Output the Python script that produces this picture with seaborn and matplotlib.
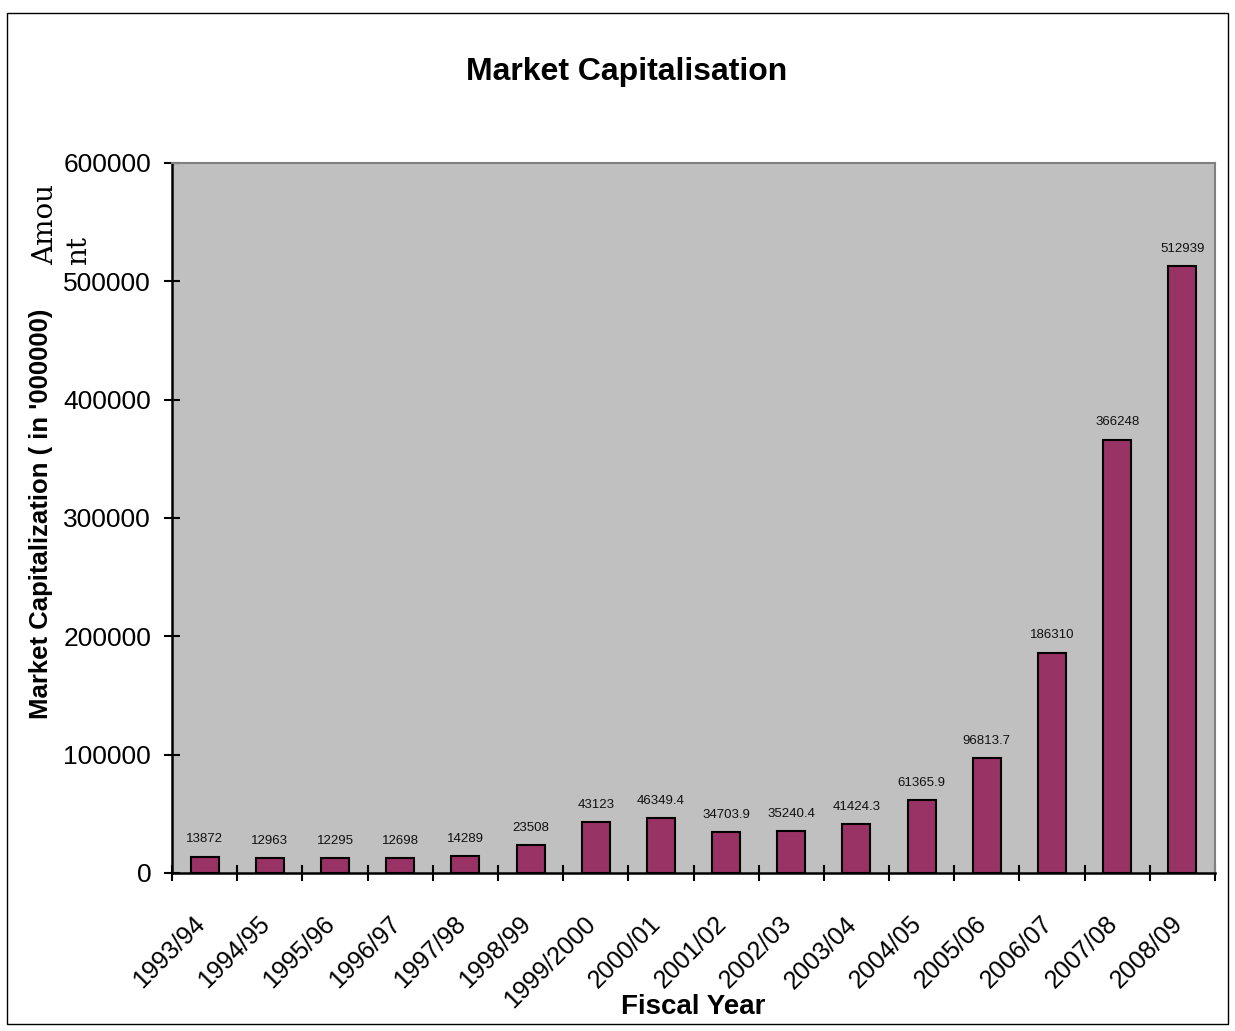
import matplotlib
matplotlib.use("Agg")
import matplotlib.pyplot as plt
import matplotlib.transforms as mtransforms
import seaborn as sns
import pandas as pd
from matplotlib.patches import Rectangle

years = ['1993/94', '1994/95', '1995/96', '1996/97', '1997/98', '1998/99',
         '1999/2000', '2000/01', '2001/02', '2002/03', '2003/04', '2004/05',
         '2005/06', '2006/07', '2007/08', '2008/09']
market_cap = [13872, 12963, 12295, 12698, 14289, 23508, 43123, 46349.4,
              34703.9, 35240.4, 41424.3, 61365.9, 96813.7, 186310, 366248, 512939]
bar_text = ['13872', '12963', '12295', '12698', '14289', '23508', '43123', '46349.4',
            '34703.9', '35240.4', '41424.3', '61365.9', '96813.7', '186310', '366248', '512939']
y_ticks = [0, 100000, 200000, 300000, 400000, 500000, 600000]

sns.set_style("white")
plt.rcParams['font.family'] = ['Liberation Sans', 'DejaVu Sans']
plt.rcParams.update({'text.color': 'black', 'axes.labelcolor': 'black',
                     'xtick.color': 'black', 'ytick.color': 'black'})

df = pd.DataFrame({'year': years, 'cap': market_cap})

fig = plt.figure(figsize=(12.35, 10.31), dpi=100)
ax = fig.add_axes([172/1235, 1 - 873/1031, (1215-172)/1235, (873-163)/1031])

sns.barplot(data=df, x='year', y='cap', color='#993366', width=0.43,
            edgecolor='black', linewidth=1.5, saturation=1, ax=ax)
ax.bar_label(ax.containers[0], labels=bar_text, padding=8, fontsize=9.5, color='#111111')

ax.set_facecolor('#C0C0C0')
ax.set_xlim(-0.5, len(years) - 0.5)
ax.set_ylim(0, 600000)
ax.set_yticks(y_ticks)
ax.set_yticklabels([str(v) for v in y_ticks], fontsize=19)
ax.tick_params(axis='y', left=True, direction='inout', length=12, width=1.5, pad=9)

# ticks between categories, labels under the bars
ax.set_xticks([i - 0.5 for i in range(len(years) + 1)], minor=True)
ax.tick_params(axis='x', which='minor', bottom=True, direction='inout', length=12, width=1.5)
ax.tick_params(axis='x', which='major', length=0, pad=28)
ax.set_xticklabels(years, rotation=45, ha='right', rotation_mode='anchor', fontsize=18)
shift = mtransforms.ScaledTranslation(-12/100, 0, fig.dpi_scale_trans)
for lbl in ax.get_xticklabels():
    lbl.set_transform(lbl.get_transform() + shift)

for s in ['left', 'bottom']:
    ax.spines[s].set_color('black')
    ax.spines[s].set_linewidth(1.8)
for s in ['top', 'right']:
    ax.spines[s].set_color('#808080')
    ax.spines[s].set_linewidth(1.5)

ax.set_xlabel('Fiscal Year', fontsize=20, fontweight='bold')
ax.set_ylabel("Market Capitalization ( in '000000)", fontsize=18.5, fontweight='bold')
ax.yaxis.set_label_coords(-0.114, 0.506)
ax.xaxis.set_label_coords(0.5, -0.170)

fig.text(0.507, 0.930, 'Market Capitalisation', ha='center', va='center',
         fontsize=23, fontweight='bold')
fig.text(32/1235, 1 - 265/1031, 'Amou\nnt', rotation=90, ha='left', va='bottom',
         multialignment='left', fontsize=20, family=['DejaVu Serif', 'Liberation Serif'],
         linespacing=1.3)

fig.patches.append(Rectangle((7/1235, 7/1031), 1 - 14/1235, 1 - 20/1031,
                             transform=fig.transFigure, fill=False,
                             edgecolor='black', linewidth=1))

fig.savefig('out.png', dpi=100)
